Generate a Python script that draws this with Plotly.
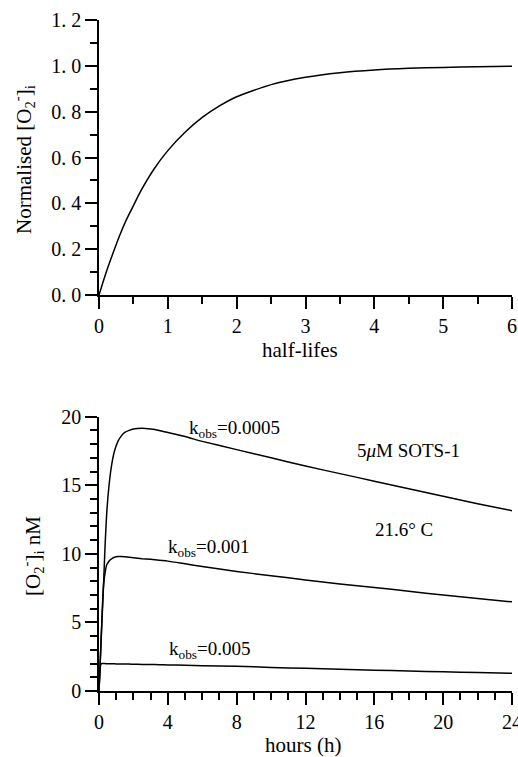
import plotly.graph_objects as go

# ---- Top panel data ----
half_lifes = [0, 0.1, 0.2, 0.3, 0.4, 0.5, 0.6, 0.8, 1.0, 1.25, 1.5, 1.75, 2, 2.5, 3, 3.5, 4, 4.5, 5, 5.5, 6]
normalised = [0, 0.095, 0.18, 0.26, 0.33, 0.39, 0.45, 0.55, 0.63, 0.71, 0.775, 0.825, 0.865, 0.918, 0.95, 0.97, 0.982, 0.989, 0.993, 0.996, 0.998]
top_yticks = [0, 0.2, 0.4, 0.6, 0.8, 1.0, 1.2]
top_yticktext = ["0. 0", "0. 2", "0. 4", "0. 6", "0. 8", "1. 0", "1. 2"]

# ---- Bottom panel data ----
hours = [0, 0.05, 0.1, 0.15, 0.25, 0.35, 0.45, 0.6, 0.75, 0.9, 1.1, 1.3, 1.5, 1.75, 2, 2.5, 3, 3.5, 4, 5, 6,
         8, 10, 12, 14, 16, 18, 20, 22, 24]
k_0005 = [0, 1.5, 3.0, 4.6, 7.3, 10.5, 13.0, 15.2, 16.6, 17.5, 18.2, 18.6, 18.85, 19.0, 19.1, 19.15, 19.1, 19.0, 18.85, 18.55, 18.2,
          17.6, 17.0, 16.4, 15.85, 15.3, 14.75, 14.2, 13.65, 13.15]
k_001 = [0, 1.5, 3.0, 4.5, 7.5, 8.6, 9.2, 9.5, 9.65, 9.75, 9.8, 9.8, 9.78, 9.75, 9.72, 9.65, 9.6, 9.53, 9.47, 9.27, 9.07,
         8.72, 8.4, 8.1, 7.8, 7.55, 7.27, 7.0, 6.75, 6.5]
k_005 = [0, 1.4, 1.9, 2.0, 2.0, 2.0, 1.99, 1.99, 1.98, 1.98, 1.97, 1.97, 1.96, 1.96, 1.95, 1.94, 1.93, 1.92, 1.9, 1.88, 1.85,
         1.8, 1.72, 1.65, 1.58, 1.52, 1.46, 1.4, 1.35, 1.29]

labels = ["k<sub>obs</sub>=0.0005", "k<sub>obs</sub>=0.001", "k<sub>obs</sub>=0.005"]
label_x = [7.9, 6.35, 6.45]
label_y = [19.1, 10.4, 3.0]

FONT = "Liberation Serif"
line_style = dict(color="black", width=1.5)

fig = go.Figure()
fig.add_trace(go.Scatter(x=half_lifes, y=normalised, mode="lines",
                         line=dict(**line_style, shape="spline", smoothing=0.6),
                         xaxis="x", yaxis="y", showlegend=False))
for series in (k_0005, k_001, k_005):
    fig.add_trace(go.Scatter(x=hours, y=series, mode="lines",
                             line=dict(**line_style, shape="spline", smoothing=0.5),
                             xaxis="x2", yaxis="y2", showlegend=False))

def axis(**kw):
    base = dict(showline=True, linecolor="black", linewidth=1.5, ticks="outside", ticklen=12,
                tickwidth=1.5, tickcolor="black", showgrid=False, zeroline=False, automargin=False,
                ticklabeloverflow="allow",
                tickfont=dict(family=FONT, size=20, color="black"))
    base.update(kw)
    return base

minor = lambda d: dict(ticks="outside", ticklen=7, tickwidth=1.5, tickcolor="black", dtick=d, tick0=0, showgrid=False)

W, Hh = 518, 757
L, R, T, B = 99, 6, 20, 66
PH = Hh - T - B
PW = W - L - R

def py(p):  # pixel from top -> paper fraction
    return (691 - p) / PH
def px(p):
    return (p - 99) / PW

fig.update_layout(
    width=W, height=Hh,
    margin=dict(l=L, r=R, t=T, b=B, autoexpand=False),
    paper_bgcolor="white", plot_bgcolor="white",
    font=dict(family=FONT, size=18, color="black"),
    xaxis=axis(domain=[0, 1], anchor="y", range=[0, 6], tickmode="linear", tick0=0, dtick=1, minor=minor(0.5)),
    yaxis=axis(domain=[py(295), 1], anchor="x", range=[0, 1.2], tickvals=top_yticks, ticktext=top_yticktext, minor=minor(0.1)),
    xaxis2=axis(domain=[0, 1], anchor="y2", range=[0, 24], tickmode="linear", tick0=0, dtick=4, minor=minor(1)),
    yaxis2=axis(domain=[0, py(416.7)], anchor="x2", range=[0, 20], tickmode="linear", tick0=0, dtick=5, minor=minor(1)),
)

annotations = [
    dict(text="half-lifes", x=px(300), y=py(350), xref="paper", yref="paper", showarrow=False,
         font=dict(family=FONT, size=21), xanchor="center", yanchor="middle"),
    dict(text="hours (h)", x=px(303), y=py(745), xref="paper", yref="paper", showarrow=False,
         font=dict(family=FONT, size=21), xanchor="center", yanchor="middle"),
    dict(text="Normalised [O<sub>2</sub><sup>-</sup>]<sub>i</sub>", x=px(23), y=py(160), xref="paper", yref="paper",
         showarrow=False, textangle=-90, font=dict(family=FONT, size=21), xanchor="center", yanchor="middle"),
    dict(text="[O<sub>2</sub><sup>-</sup>]<sub>i</sub> nM", x=px(32), y=py(556), xref="paper", yref="paper",
         showarrow=False, textangle=-90, font=dict(family=FONT, size=21), xanchor="center", yanchor="middle"),
    dict(text="5<i>μ</i>M SOTS-1", x=17.97, y=17.5, xref="x2", yref="y2", showarrow=False,
         font=dict(family=FONT, size=19)),
    dict(text="21.6° C", x=17.7, y=11.75, xref="x2", yref="y2", showarrow=False,
         font=dict(family=FONT, size=19)),
]
for t, lx, ly in zip(labels, label_x, label_y):
    annotations.append(dict(text=t, x=lx, y=ly, xref="x2", yref="y2", showarrow=False,
                            font=dict(family=FONT, size=19)))
fig.update_layout(annotations=annotations)

# remove the default page margin so the figure sits at the window's top-left corner
fig.write_html("out.html", config={"displayModeBar": False},
               post_script="document.body.style.margin='0';document.body.style.overflow='hidden';")
